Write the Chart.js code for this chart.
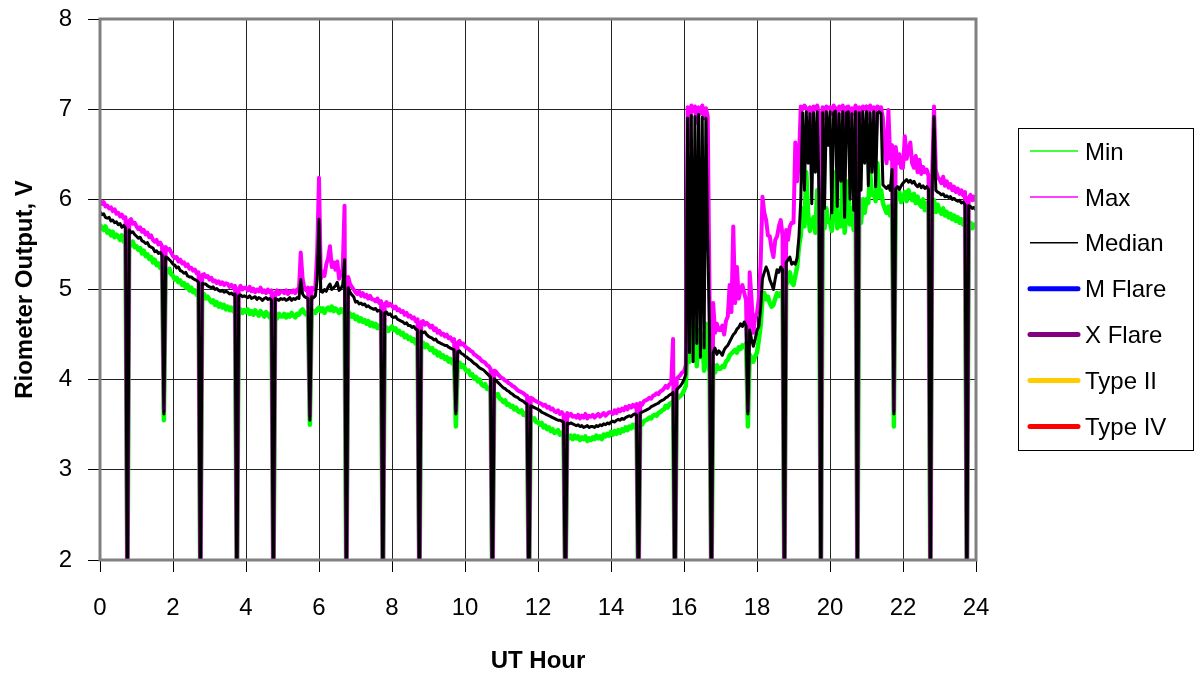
<!DOCTYPE html>
<html>
<head>
<meta charset="utf-8">
<script src="https://cdn.jsdelivr.net/npm/chart.js@4.4.1/dist/chart.umd.min.js"></script>
<style>
  html, body { margin: 0; padding: 0; background: #fff; }
  #wrap { width: 1202px; height: 679px; }
</style>
</head>
<body>
<div id="wrap"><canvas id="rioChart" width="1202" height="679"></canvas></div>
<script>
// one sample every 0.05 h, 20 per row = one UT hour per row, last value is 24:00
const sampleStep = 0.05;

const minVolts = [
  5.72,5.68,5.66,5.70,5.63,5.65,5.60,5.64,5.58,5.61,5.59,5.55,5.60,5.53,5.56,1.5,5.52,5.49,5.53,5.47,
  5.48,5.44,5.46,5.40,5.43,5.37,5.39,5.34,5.36,5.30,5.33,5.27,5.29,5.24,5.28,3.55,5.22,5.19,5.23,5.17,
  5.15,5.11,5.13,5.08,5.10,5.05,5.07,5.02,5.05,4.99,5.02,4.97,4.99,4.94,4.97,1.5,4.92,4.95,4.90,4.92,
  4.89,4.86,4.88,4.83,4.86,4.81,4.84,4.80,4.83,4.78,4.81,4.77,4.80,4.76,4.79,1.5,4.75,4.78,4.74,4.77,
  4.75,4.78,4.73,4.76,4.72,4.77,4.74,4.71,4.76,4.73,4.70,4.75,4.72,4.69,4.74,1.5,4.71,4.68,4.73,4.70,
  4.70,4.73,4.69,4.72,4.70,4.74,4.71,4.69,4.73,4.72,4.76,4.78,4.74,4.72,4.75,3.50,4.73,4.76,4.74,4.78,
  4.80,4.76,4.79,4.74,4.78,4.80,4.77,4.81,4.76,4.79,4.77,4.74,4.78,4.75,4.79,1.5,4.75,4.73,4.70,4.72,
  4.67,4.70,4.65,4.68,4.64,4.66,4.62,4.65,4.60,4.63,4.59,4.62,4.57,4.60,4.58,1.5,4.55,4.58,4.54,4.57,
  4.59,4.55,4.57,4.52,4.54,4.50,4.52,4.47,4.49,4.45,4.47,4.43,4.45,4.40,4.43,1.5,4.38,4.41,4.36,4.39,
  4.36,4.33,4.35,4.30,4.32,4.27,4.30,4.25,4.27,4.23,4.25,4.20,4.23,4.18,4.21,3.48,4.16,4.19,4.14,4.16,
  4.12,4.09,4.10,4.05,4.06,4.01,4.03,3.98,4.00,3.95,3.93,3.95,3.90,3.91,3.86,1.5,3.85,3.82,3.84,3.79,
  3.78,3.75,3.77,3.72,3.73,3.70,3.71,3.67,3.69,3.65,3.64,3.66,3.61,3.63,3.58,1.5,3.59,3.55,3.57,3.53,
  3.53,3.50,3.52,3.47,3.49,3.45,3.47,3.43,3.45,3.41,3.42,3.44,3.39,3.41,3.37,1.5,3.39,3.35,3.38,3.34,
  3.38,3.35,3.37,3.33,3.36,3.34,3.37,3.32,3.35,3.33,3.36,3.34,3.38,3.35,3.37,3.34,3.39,3.37,3.40,3.38,
  3.42,3.39,3.43,3.40,3.44,3.41,3.45,3.43,3.47,3.44,3.48,3.46,3.50,3.47,3.51,1.5,3.52,3.50,3.54,3.55,
  3.56,3.58,3.57,3.60,3.61,3.60,3.63,3.64,3.66,3.67,3.71,3.69,3.73,3.74,3.76,1.5,3.78,3.80,3.82,3.84,
  3.88,3.93,4.45,4.20,5.63,4.35,4.60,4.15,4.55,4.25,4.50,4.10,4.62,4.18,4.10,1.5,4.12,4.08,4.16,4.12,
  4.12,4.15,4.14,4.20,4.22,4.27,4.29,4.31,4.33,4.30,4.36,4.34,4.38,4.36,4.40,3.48,4.28,4.24,4.20,4.26,
  4.30,4.44,4.60,4.90,4.96,4.89,4.92,4.85,4.81,4.83,4.90,4.96,4.93,4.96,4.98,1.5,5.05,5.10,5.19,5.08,
  5.05,5.15,5.25,5.48,5.60,5.90,5.70,6.30,5.85,5.65,5.75,5.80,5.63,6.10,5.70,1.5,5.72,5.68,5.90,5.75,
  5.75,5.65,5.90,6.30,5.68,5.80,5.70,6.50,5.63,5.85,6.20,5.72,5.90,5.66,6.10,1.5,5.80,5.74,6.00,5.85,
  6.00,5.96,6.30,6.05,6.07,5.98,6.40,6.02,6.10,5.96,5.90,5.85,5.92,5.82,5.95,3.48,5.98,6.03,6.08,5.97,
  6.02,6.08,5.98,6.10,6.04,5.99,6.06,5.96,6.03,5.95,5.92,6.00,5.88,5.96,5.90,1.5,5.93,5.99,5.86,5.94,
  5.88,5.84,5.90,5.82,5.86,5.80,5.84,5.78,5.82,5.76,5.80,5.74,5.78,5.72,5.76,1.5,5.70,5.74,5.68,5.72,
  5.70
];

const maxVolts = [
  5.99,5.95,5.97,5.92,5.93,5.90,5.91,5.87,5.89,5.84,5.85,5.81,5.83,5.79,5.80,1.5,5.76,5.78,5.73,5.74,
  5.70,5.67,5.69,5.64,5.66,5.61,5.63,5.58,5.60,5.55,5.53,5.55,5.50,5.52,5.48,3.66,5.47,5.44,5.45,5.41,
  5.37,5.35,5.36,5.31,5.33,5.29,5.30,5.26,5.28,5.23,5.24,5.21,5.22,5.18,5.19,1.5,5.16,5.17,5.14,5.15,
  5.11,5.13,5.09,5.10,5.07,5.09,5.06,5.08,5.05,5.07,5.06,5.03,5.05,5.02,5.04,1.5,5.01,5.04,5.00,5.02,
  5.02,4.99,5.03,4.98,5.01,4.97,5.00,4.98,5.02,4.97,4.99,4.96,5.00,4.97,4.99,1.5,4.96,4.99,4.95,4.98,
  4.98,4.96,4.99,4.95,4.98,4.97,4.99,4.96,5.00,4.98,5.41,5.12,5.01,4.99,5.02,3.60,5.02,5.00,5.03,5.41,
  6.24,5.12,5.20,5.15,5.28,5.35,5.48,5.25,5.30,5.22,5.31,5.12,5.18,5.22,5.93,1.5,5.14,5.06,5.03,5.00,
  4.97,4.95,4.98,4.93,4.96,4.92,4.94,4.90,4.93,4.89,4.89,4.87,4.90,4.85,4.87,1.5,4.84,4.86,4.82,4.84,
  4.82,4.79,4.81,4.77,4.78,4.75,4.76,4.72,4.74,4.70,4.71,4.68,4.69,4.65,4.67,1.5,4.64,4.65,4.61,4.63,
  4.61,4.58,4.60,4.55,4.57,4.52,4.54,4.50,4.51,4.48,4.50,4.46,4.47,4.43,4.45,3.66,4.41,4.43,4.39,4.40,
  4.37,4.35,4.34,4.32,4.31,4.28,4.27,4.25,4.24,4.21,4.20,4.19,4.16,4.15,4.12,1.5,4.10,4.09,4.06,4.04,
  4.02,4.01,3.99,3.98,3.96,3.95,3.93,3.92,3.90,3.88,3.87,3.86,3.85,3.83,3.82,1.5,3.80,3.79,3.77,3.76,
  3.75,3.74,3.73,3.71,3.72,3.69,3.70,3.67,3.68,3.65,3.64,3.66,3.62,3.64,3.61,1.5,3.63,3.60,3.62,3.59,
  3.60,3.58,3.61,3.57,3.60,3.58,3.62,3.57,3.60,3.59,3.61,3.58,3.60,3.62,3.59,3.61,3.63,3.60,3.62,3.64,
  3.64,3.62,3.66,3.63,3.67,3.65,3.68,3.66,3.70,3.67,3.71,3.69,3.72,3.70,3.73,1.5,3.74,3.72,3.76,3.77,
  3.78,3.80,3.79,3.82,3.83,3.85,3.84,3.87,3.88,3.90,3.93,3.91,3.95,3.96,4.45,1.5,4.01,4.03,4.05,4.08,
  4.09,4.16,7.02,6.60,7.04,6.98,7.03,6.85,7.02,6.95,7.04,6.90,7.01,6.92,4.92,1.5,4.85,4.52,4.62,4.55,
  4.55,4.60,4.50,4.65,4.70,5.05,4.75,5.70,4.85,5.25,4.90,5.00,5.05,4.96,4.88,3.66,5.19,4.90,4.52,4.70,
  4.74,4.90,5.30,6.03,5.85,5.77,5.60,5.59,5.45,5.36,5.55,5.59,5.70,5.77,5.60,1.5,5.66,5.55,5.70,5.74,
  5.74,6.63,6.20,6.45,7.03,7.00,7.04,7.01,6.98,7.02,6.70,7.03,7.00,7.04,6.95,1.5,7.02,6.90,7.03,7.01,
  7.02,6.95,7.04,7.01,6.80,7.03,7.00,7.04,6.60,7.02,7.03,6.85,7.01,6.95,7.04,1.5,7.02,6.90,7.03,7.00,
  7.03,6.90,7.04,7.00,7.02,6.60,7.03,7.01,7.02,6.90,6.55,6.40,6.99,6.45,6.60,3.66,6.58,6.40,6.50,6.35,
  6.35,6.70,6.45,6.55,6.63,6.40,6.35,6.48,6.30,6.44,6.28,6.36,6.30,6.33,6.26,1.5,6.30,7.03,6.32,6.25,
  6.22,6.18,6.25,6.15,6.20,6.13,6.17,6.10,6.14,6.08,6.12,6.06,6.10,6.04,6.08,1.5,6.02,6.05,5.99,6.03,
  5.98
];

const medianVolts = [
  5.86,5.83,5.84,5.80,5.79,5.80,5.76,5.77,5.74,5.75,5.72,5.73,5.69,5.71,5.68,1.5,5.66,5.63,5.64,5.61,
  5.59,5.57,5.58,5.54,5.53,5.51,5.52,5.48,5.47,5.46,5.42,5.43,5.40,5.41,5.38,3.62,5.36,5.35,5.33,5.31,
  5.28,5.27,5.24,5.25,5.21,5.20,5.18,5.19,5.15,5.14,5.14,5.12,5.11,5.10,5.08,1.5,5.07,5.06,5.06,5.04,
  5.03,5.02,5.03,5.00,5.01,4.99,4.98,4.99,4.97,4.98,4.97,4.95,4.96,4.94,4.95,1.5,4.93,4.94,4.92,4.93,
  4.92,4.91,4.93,4.90,4.91,4.92,4.89,4.91,4.90,4.88,4.90,4.91,4.89,4.90,4.88,1.5,4.90,4.89,4.88,4.90,
  4.89,4.90,4.88,4.89,4.91,4.88,4.90,4.89,4.91,4.90,5.11,4.95,4.92,4.91,4.90,3.55,4.92,4.91,4.93,5.11,
  5.78,4.98,4.97,5.00,4.98,5.03,5.06,5.00,5.02,5.04,5.08,4.99,5.01,5.05,5.33,1.5,5.02,4.97,4.94,4.92,
  4.86,4.87,4.84,4.85,4.83,4.84,4.81,4.82,4.80,4.79,4.78,4.79,4.76,4.77,4.75,1.5,4.74,4.75,4.72,4.73,
  4.70,4.69,4.70,4.67,4.66,4.65,4.64,4.62,4.63,4.60,4.60,4.58,4.59,4.56,4.55,1.5,4.54,4.52,4.53,4.50,
  4.48,4.47,4.46,4.44,4.45,4.42,4.41,4.40,4.39,4.38,4.38,4.36,4.35,4.34,4.33,3.62,4.31,4.32,4.29,4.28,
  4.26,4.25,4.23,4.22,4.20,4.18,4.17,4.15,4.13,4.12,4.11,4.09,4.07,4.05,4.03,1.5,4.01,3.99,3.97,3.95,
  3.93,3.91,3.90,3.88,3.87,3.85,3.84,3.82,3.81,3.80,3.78,3.77,3.76,3.74,3.73,1.5,3.71,3.70,3.69,3.68,
  3.67,3.66,3.64,3.63,3.62,3.61,3.60,3.59,3.58,3.57,3.56,3.55,3.55,3.54,3.53,1.5,3.52,3.51,3.52,3.51,
  3.50,3.49,3.50,3.48,3.49,3.47,3.48,3.49,3.47,3.48,3.48,3.47,3.49,3.48,3.50,3.49,3.51,3.50,3.52,3.51,
  3.53,3.54,3.53,3.55,3.56,3.55,3.57,3.56,3.58,3.59,3.60,3.59,3.61,3.62,3.61,1.5,3.63,3.64,3.65,3.66,
  3.67,3.68,3.70,3.71,3.72,3.73,3.74,3.76,3.77,3.78,3.80,3.81,3.83,3.84,3.86,1.5,3.89,3.91,3.93,3.96,
  4.00,4.06,6.90,4.30,6.93,4.20,6.92,4.40,6.94,4.25,6.91,4.35,6.90,5.52,4.55,1.5,4.30,4.35,4.28,4.32,
  4.30,4.27,4.33,4.36,4.38,4.42,4.46,4.50,4.52,4.56,4.58,4.62,4.59,4.64,4.60,3.62,4.55,4.45,4.37,4.45,
  4.55,4.59,4.80,5.12,5.19,5.25,5.20,5.11,5.06,5.00,5.12,5.22,5.19,5.25,5.22,1.5,5.30,5.33,5.36,5.28,
  5.30,5.28,5.35,5.59,6.00,6.96,6.10,6.97,6.40,6.95,5.95,6.96,6.30,6.97,6.05,1.5,6.96,5.90,6.97,6.60,
  6.97,5.85,6.96,6.98,5.92,6.95,6.20,6.97,5.80,6.96,6.97,6.00,6.95,5.88,6.97,1.5,6.96,6.10,6.97,6.40,
  6.97,6.15,6.96,6.30,6.97,6.14,6.96,6.97,6.95,6.16,6.14,6.12,6.15,6.10,6.33,3.62,6.12,6.14,6.11,6.15,
  6.18,6.20,6.22,6.19,6.21,6.18,6.20,6.16,6.14,6.17,6.13,6.15,6.12,6.14,6.11,1.5,6.13,6.92,6.10,6.08,
  6.07,6.05,6.06,6.03,6.04,6.02,6.03,6.00,6.01,5.99,5.98,5.99,5.96,5.97,5.94,1.5,5.93,5.92,5.90,5.91,
  5.88
];

// flare / burst markers: none fall on this day
const mFlare = [];
const xFlare = [];
const typeII = [];
const typeIV = [];

const seriesNames = ['Min', 'Max', 'Median', 'M Flare', 'X Flare', 'Type II', 'Type IV'];
const seriesColors = ['#00ff00', '#ff00ff', '#000000', '#0000ff', '#800080', '#ffcc00', '#ff0000'];
const lineWidths = [4.5, 4, 3, 5, 5, 5, 5];

const FONT = "'Liberation Sans', Arial, sans-serif";

function toPoints(values) {
  return values.map((v, i) => ({ x: i * sampleStep, y: v }));
}

const allSeries = [minVolts, maxVolts, medianVolts, mFlare, xFlare, typeII, typeIV];
// median on top, then max, then min underneath
const drawOrder = [2, 1, 0, 3, 4, 5, 6];

const datasets = allSeries.map((vals, i) => ({
  label: seriesNames[i],
  data: toPoints(vals),
  borderColor: seriesColors[i],
  backgroundColor: seriesColors[i],
  borderWidth: lineWidths[i],
  borderJoinStyle: 'round',
  pointRadius: 0,
  tension: 0,
  fill: false,
  order: drawOrder[i]
}));

// grey frame round the plot area
const plotFrame = {
  id: 'plotFrame',
  afterDatasetsDraw(chart) {
    const { ctx, chartArea: a } = chart;
    ctx.save();
    ctx.strokeStyle = '#808080';
    ctx.lineWidth = 3;
    ctx.strokeRect(a.left, a.top, a.right - a.left, a.bottom - a.top);
    ctx.restore();
  }
};

// boxed legend on the right, like the spreadsheet one
const boxLegend = {
  id: 'boxLegend',
  afterDraw(chart) {
    const ctx = chart.ctx;
    ctx.save();
    ctx.strokeStyle = '#000';
    ctx.lineWidth = 1;
    ctx.strokeRect(1018.5, 128.5, 175, 322);
    ctx.font = '24px ' + FONT;
    ctx.textBaseline = 'middle';
    ctx.textAlign = 'left';
    chart.data.datasets.forEach((ds, i) => {
      const y = 151 + i * 45.9;
      ctx.beginPath();
      ctx.strokeStyle = ds.borderColor;
      ctx.lineWidth = i < 3 ? 1.5 : 5;
      ctx.lineCap = i < 3 ? 'butt' : 'round';
      ctx.moveTo(1030, y);
      ctx.lineTo(1078, y);
      ctx.stroke();
      ctx.fillStyle = '#000';
      ctx.fillText(ds.label, 1085, y + 2);
    });
    ctx.restore();
  }
};

new Chart(document.getElementById('rioChart'), {
  type: 'line',
  data: { datasets },
  options: {
    responsive: false,
    animation: false,
    devicePixelRatio: 1,
    layout: { padding: { top: 19, right: 226, bottom: 0, left: 0 } },
    plugins: {
      legend: { display: false },
      tooltip: { enabled: false }
    },
    scales: {
      x: {
        type: 'linear',
        min: 0,
        max: 24,
        ticks: { stepSize: 2, color: '#000', font: { family: FONT, size: 24 }, padding: 22, maxRotation: 0 },
        grid: { color: '#222', lineWidth: 1, tickLength: 12, tickColor: '#000', tickWidth: 1 },
        border: { display: false },
        title: { display: true, text: 'UT Hour', color: '#000', font: { family: FONT, size: 24, weight: 'bold' }, padding: { top: 0, bottom: 3 } },
        afterFit(scale) { scale.height = 119; scale.paddingLeft = 0; scale.paddingRight = 0; }
      },
      y: {
        min: 2,
        max: 8,
        ticks: { stepSize: 1, color: '#000', font: { family: FONT, size: 24 }, padding: 16 },
        grid: { color: '#222', lineWidth: 1, tickLength: 12, tickColor: '#000', tickWidth: 1 },
        border: { display: false },
        title: { display: true, text: 'Riometer Output, V', color: '#000', font: { family: FONT, size: 24, weight: 'bold' }, padding: { top: 11, bottom: 0 } },
        afterFit(scale) { scale.width = 100; scale.paddingTop = 0; scale.paddingBottom = 0; }
      }
    }
  },
  plugins: [plotFrame, boxLegend]
});
</script>
</body>
</html>
